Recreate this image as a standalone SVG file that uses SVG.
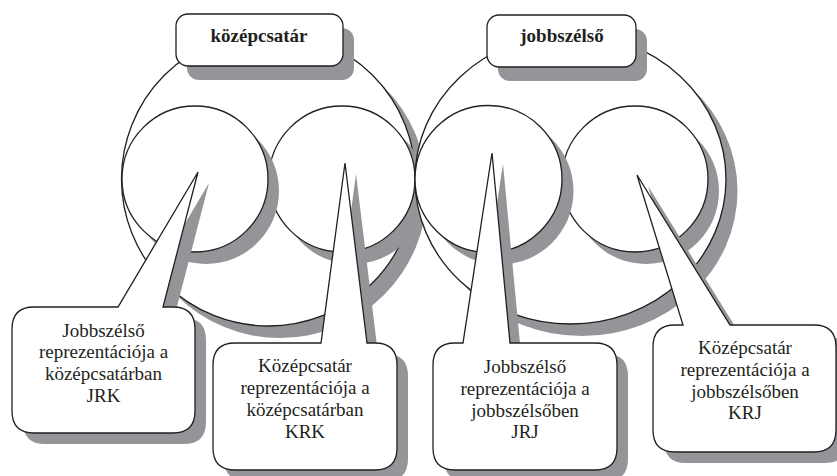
<svg xmlns="http://www.w3.org/2000/svg" width="837" height="476" viewBox="0 0 837 476">
  <style>
    .shadow { fill: #939598; stroke: none; }
    .shape { fill: #ffffff; stroke: #231f20; stroke-width: 1.3; stroke-linejoin: miter; }
    .title { font-family: "Liberation Serif", "DejaVu Serif", serif; font-weight: bold; font-size: 19px; fill: #231f20; text-anchor: middle; }
    .label { font-family: "Liberation Serif", "DejaVu Serif", serif; font-size: 19px; fill: #231f20; text-anchor: middle; }
  </style>
  <defs>
    <!-- callout outlines: rounded box merged with a pointer wedge -->
    <path id="callout-jrk" d="M34 307 L118 307 L198 172 L163 307 L173 307 Q195 307 195 329 L195 411 Q195 433 173 433 L34 433 Q12 433 12 411 L12 329 Q12 307 34 307 Z"/>
    <path id="callout-krk" d="M235 343 L321 343 L345 163 L367 343 L375 343 Q397 343 397 365 L397 448 Q397 470 375 470 L235 470 Q213 470 213 448 L213 365 Q213 343 235 343 Z"/>
    <path id="callout-jrj" d="M455 343 L463 343 L492 153 L510 343 L595 343 Q617 343 617 365 L617 448 Q617 470 595 470 L455 470 Q433 470 433 448 L433 365 Q433 343 455 343 Z"/>
    <path id="callout-krj" d="M675 325 L683 325 L637 175 L730 325 L814 325 Q836 325 836 347 L836 430 Q836 452 814 452 L675 452 Q653 452 653 430 L653 347 Q653 325 675 325 Z"/>
  </defs>

  <!-- left group: outer circle, then right and left inner circles -->
  <g id="kozepcsatar-outer">
    <circle class="shadow" cx="280" cy="191" r="147"/>
    <circle class="shape" cx="268.5" cy="179" r="147"/>
  </g>
  <g id="krk-circle">
    <circle class="shadow" cx="353" cy="191" r="73"/>
    <circle class="shape" cx="342" cy="179" r="73"/>
  </g>
  <g id="jrk-circle">
    <circle class="shadow" cx="206" cy="191" r="73"/>
    <circle class="shape" cx="195" cy="179" r="73"/>
  </g>

  <!-- right group: outer ellipse, then right and left inner circles -->
  <g id="jobbszelso-outer">
    <ellipse class="shadow" cx="582" cy="191" rx="155.5" ry="145"/>
    <ellipse class="shape" cx="570.5" cy="179" rx="155.5" ry="145"/>
  </g>
  <g id="krj-circle">
    <circle class="shadow" cx="646" cy="191" r="73"/>
    <circle class="shape" cx="635" cy="179" r="73"/>
  </g>
  <g id="jrj-circle">
    <circle class="shadow" cx="500" cy="191" r="73.5"/>
    <circle class="shape" cx="488.5" cy="179" r="73.5"/>
  </g>

  <!-- title boxes -->
  <g id="title-kozepcsatar">
    <rect class="shadow" x="187" y="28" width="167" height="52" rx="12"/>
    <rect class="shape" x="176" y="14" width="167" height="52" rx="12"/>
    <text class="title" x="259" y="42">középcsatár</text>
  </g>
  <g id="title-jobbszelso">
    <rect class="shadow" x="498" y="29" width="149" height="52" rx="12"/>
    <rect class="shape" x="487" y="15" width="149" height="52" rx="12"/>
    <text class="title" x="562" y="42">jobbszélső</text>
  </g>

  <!-- callouts -->
  <g id="callout-JRK">
    <use href="#callout-jrk" class="shadow" transform="translate(11,11)"/>
    <use href="#callout-jrk" class="shape"/>
    <text class="label" x="103.5" y="337">Jobbszélső</text>
    <text class="label" x="103.5" y="358">reprezentációja a</text>
    <text class="label" x="103.5" y="380">középcsatárban</text>
    <text class="label" x="103.5" y="402">JRK</text>
  </g>
  <g id="callout-KRK">
    <use href="#callout-krk" class="shadow" transform="translate(11,11)"/>
    <use href="#callout-krk" class="shape"/>
    <text class="label" x="305" y="372">Középcsatár</text>
    <text class="label" x="305" y="394">reprezentációja a</text>
    <text class="label" x="305" y="416">középcsatárban</text>
    <text class="label" x="305" y="438">KRK</text>
  </g>
  <g id="callout-JRJ">
    <use href="#callout-jrj" class="shadow" transform="translate(11,11)"/>
    <use href="#callout-jrj" class="shape"/>
    <text class="label" x="525" y="373">Jobbszélső</text>
    <text class="label" x="525" y="395">reprezentációja a</text>
    <text class="label" x="525" y="417">jobbszélsőben</text>
    <text class="label" x="525" y="438">JRJ</text>
  </g>
  <g id="callout-KRJ">
    <use href="#callout-krj" class="shadow" transform="translate(11,11)"/>
    <use href="#callout-krj" class="shape"/>
    <text class="label" x="745" y="354">Középcsatár</text>
    <text class="label" x="745" y="376">reprezentációja a</text>
    <text class="label" x="745" y="398">jobbszélsőben</text>
    <text class="label" x="745" y="419">KRJ</text>
  </g>
</svg>
